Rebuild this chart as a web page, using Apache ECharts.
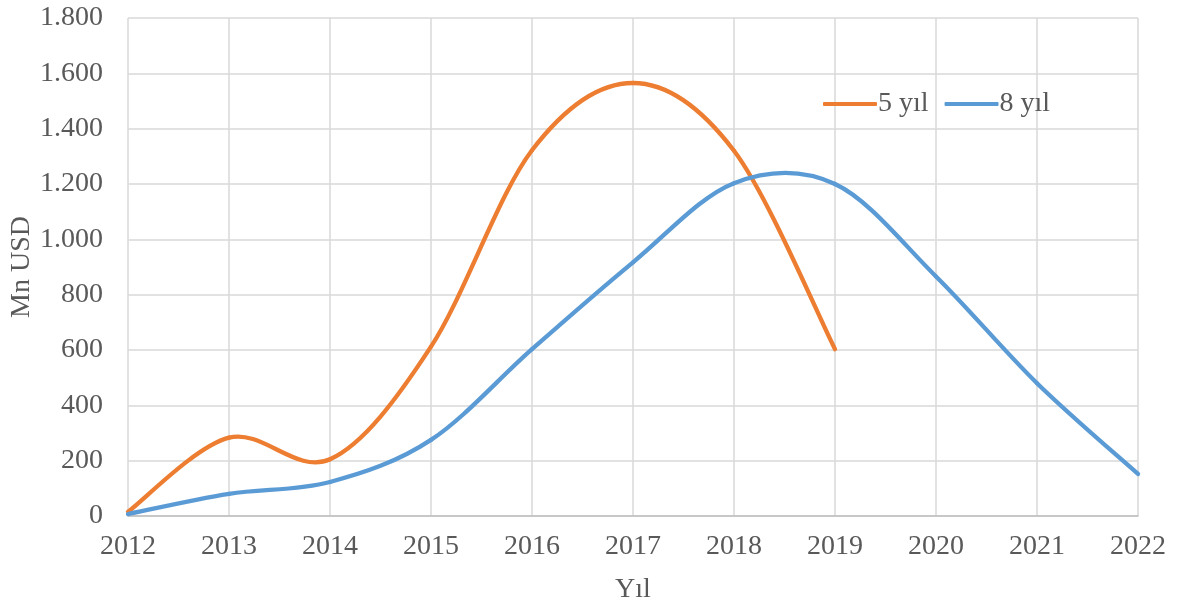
<!DOCTYPE html>
<html>
<head>
<meta charset="utf-8">
<script src="https://cdn.jsdelivr.net/npm/echarts@6/dist/echarts.min.js"></script>
<style>
html,body{margin:0;padding:0;background:#fff;}
#chart{width:1188px;height:606px;}
</style>
</head>
<body>
<div id="chart"></div>
<script>
const years = ['2012','2013','2014','2015','2016','2017','2018','2019','2020','2021','2022'];
const series5 = [15, 283, 205, 612, 1322, 1565, 1320, 603];
const series8 = [7, 80, 123, 275, 603, 917, 1203, 1200, 866, 480, 152];
const seriesNames = ['5 yıl', '8 yıl'];
const seriesColors = ['#ed7d31', '#5b9bd5'];
const yAxisName = 'Mn USD';
const xAxisName = 'Yıl';

const font = 'Liberation Serif, Times New Roman, serif';
const textColor = '#595959';
const fs = 28;

// Excel-like smoothed line: Catmull-Rom segments drawn as cubic Bezier curves,
// with every point placed through the chart's own axes (api.coord).
function makeRender(values, color) {
  return function (params, api) {
    const i = params.dataIndex;
    const n = values.length;
    if (i >= n - 1) return null;
    const pt = j => {
      const k = Math.max(0, Math.min(n - 1, j));
      return api.coord([k, values[k]]);
    };
    const p0 = pt(i - 1), p1 = pt(i), p2 = pt(i + 1), p3 = pt(i + 2);
    const t = 1 / 6;
    return {
      type: 'bezierCurve',
      shape: {
        x1: p1[0], y1: p1[1], x2: p2[0], y2: p2[1],
        cpx1: p1[0] + (p2[0] - p0[0]) * t, cpy1: p1[1] + (p2[1] - p0[1]) * t,
        cpx2: p2[0] - (p3[0] - p1[0]) * t, cpy2: p2[1] - (p3[1] - p1[1]) * t
      },
      style: { stroke: color, lineWidth: 4.3, fill: null, lineCap: 'round', lineJoin: 'round' }
    };
  };
}

function makeSeries(name, values, color) {
  return {
    name: name,
    type: 'custom',
    coordinateSystem: 'cartesian2d',
    encode: { x: 0, y: 1 },
    data: values.map((v, i) => [i, v]),
    itemStyle: { color: color },
    renderItem: makeRender(values, color),
    clip: false
  };
}

const chart = echarts.init(document.getElementById('chart'));
chart.setOption({
  animation: false,
  backgroundColor: '#ffffff',
  textStyle: { fontFamily: font },
  grid: { left: 128, right: 50, top: 18, bottom: 90, containLabel: false, outerBoundsMode: 'none' },
  legend: {
    data: seriesNames.map((n, i) => ({ name: n, icon: 'roundRect', itemStyle: { color: seriesColors[i] } })),
    left: 818, top: 85,
    itemWidth: 54, itemHeight: 4, itemGap: 16,
    textStyle: { fontFamily: font, fontSize: fs, color: textColor, padding: [0, 0, 0, -4] }
  },
  xAxis: {
    type: 'category',
    data: years,
    boundaryGap: false,
    name: xAxisName,
    nameLocation: 'middle',
    nameGap: 60,
    nameMoveOverlap: false,
    nameTextStyle: { fontFamily: font, fontSize: fs, color: textColor },
    axisLine: { show: true, lineStyle: { color: '#bfbfbf', width: 1.5 } },
    axisTick: { show: false },
    axisLabel: { fontFamily: font, fontSize: fs, color: textColor, margin: 17 },
    splitLine: { show: true, lineStyle: { color: '#d9d9d9', width: 1.5 } }
  },
  yAxis: {
    type: 'value',
    min: 0, max: 1800, interval: 200,
    name: yAxisName,
    nameLocation: 'middle',
    nameGap: 92,
    nameMoveOverlap: false,
    nameRotate: 90,
    nameTextStyle: { fontFamily: font, fontSize: fs, color: textColor },
    axisLine: { show: false },
    axisTick: { show: false },
    axisLabel: {
      fontFamily: font, fontSize: fs, color: textColor, margin: 25,
      formatter: v => String(v).replace(/\B(?=(\d{3})+(?!\d))/g, '.')
    },
    splitLine: { show: true, lineStyle: { color: '#d9d9d9', width: 1.5 } }
  },
  series: [
    makeSeries(seriesNames[0], series5, seriesColors[0]),
    makeSeries(seriesNames[1], series8, seriesColors[1])
  ]
});
</script>
</body>
</html>
